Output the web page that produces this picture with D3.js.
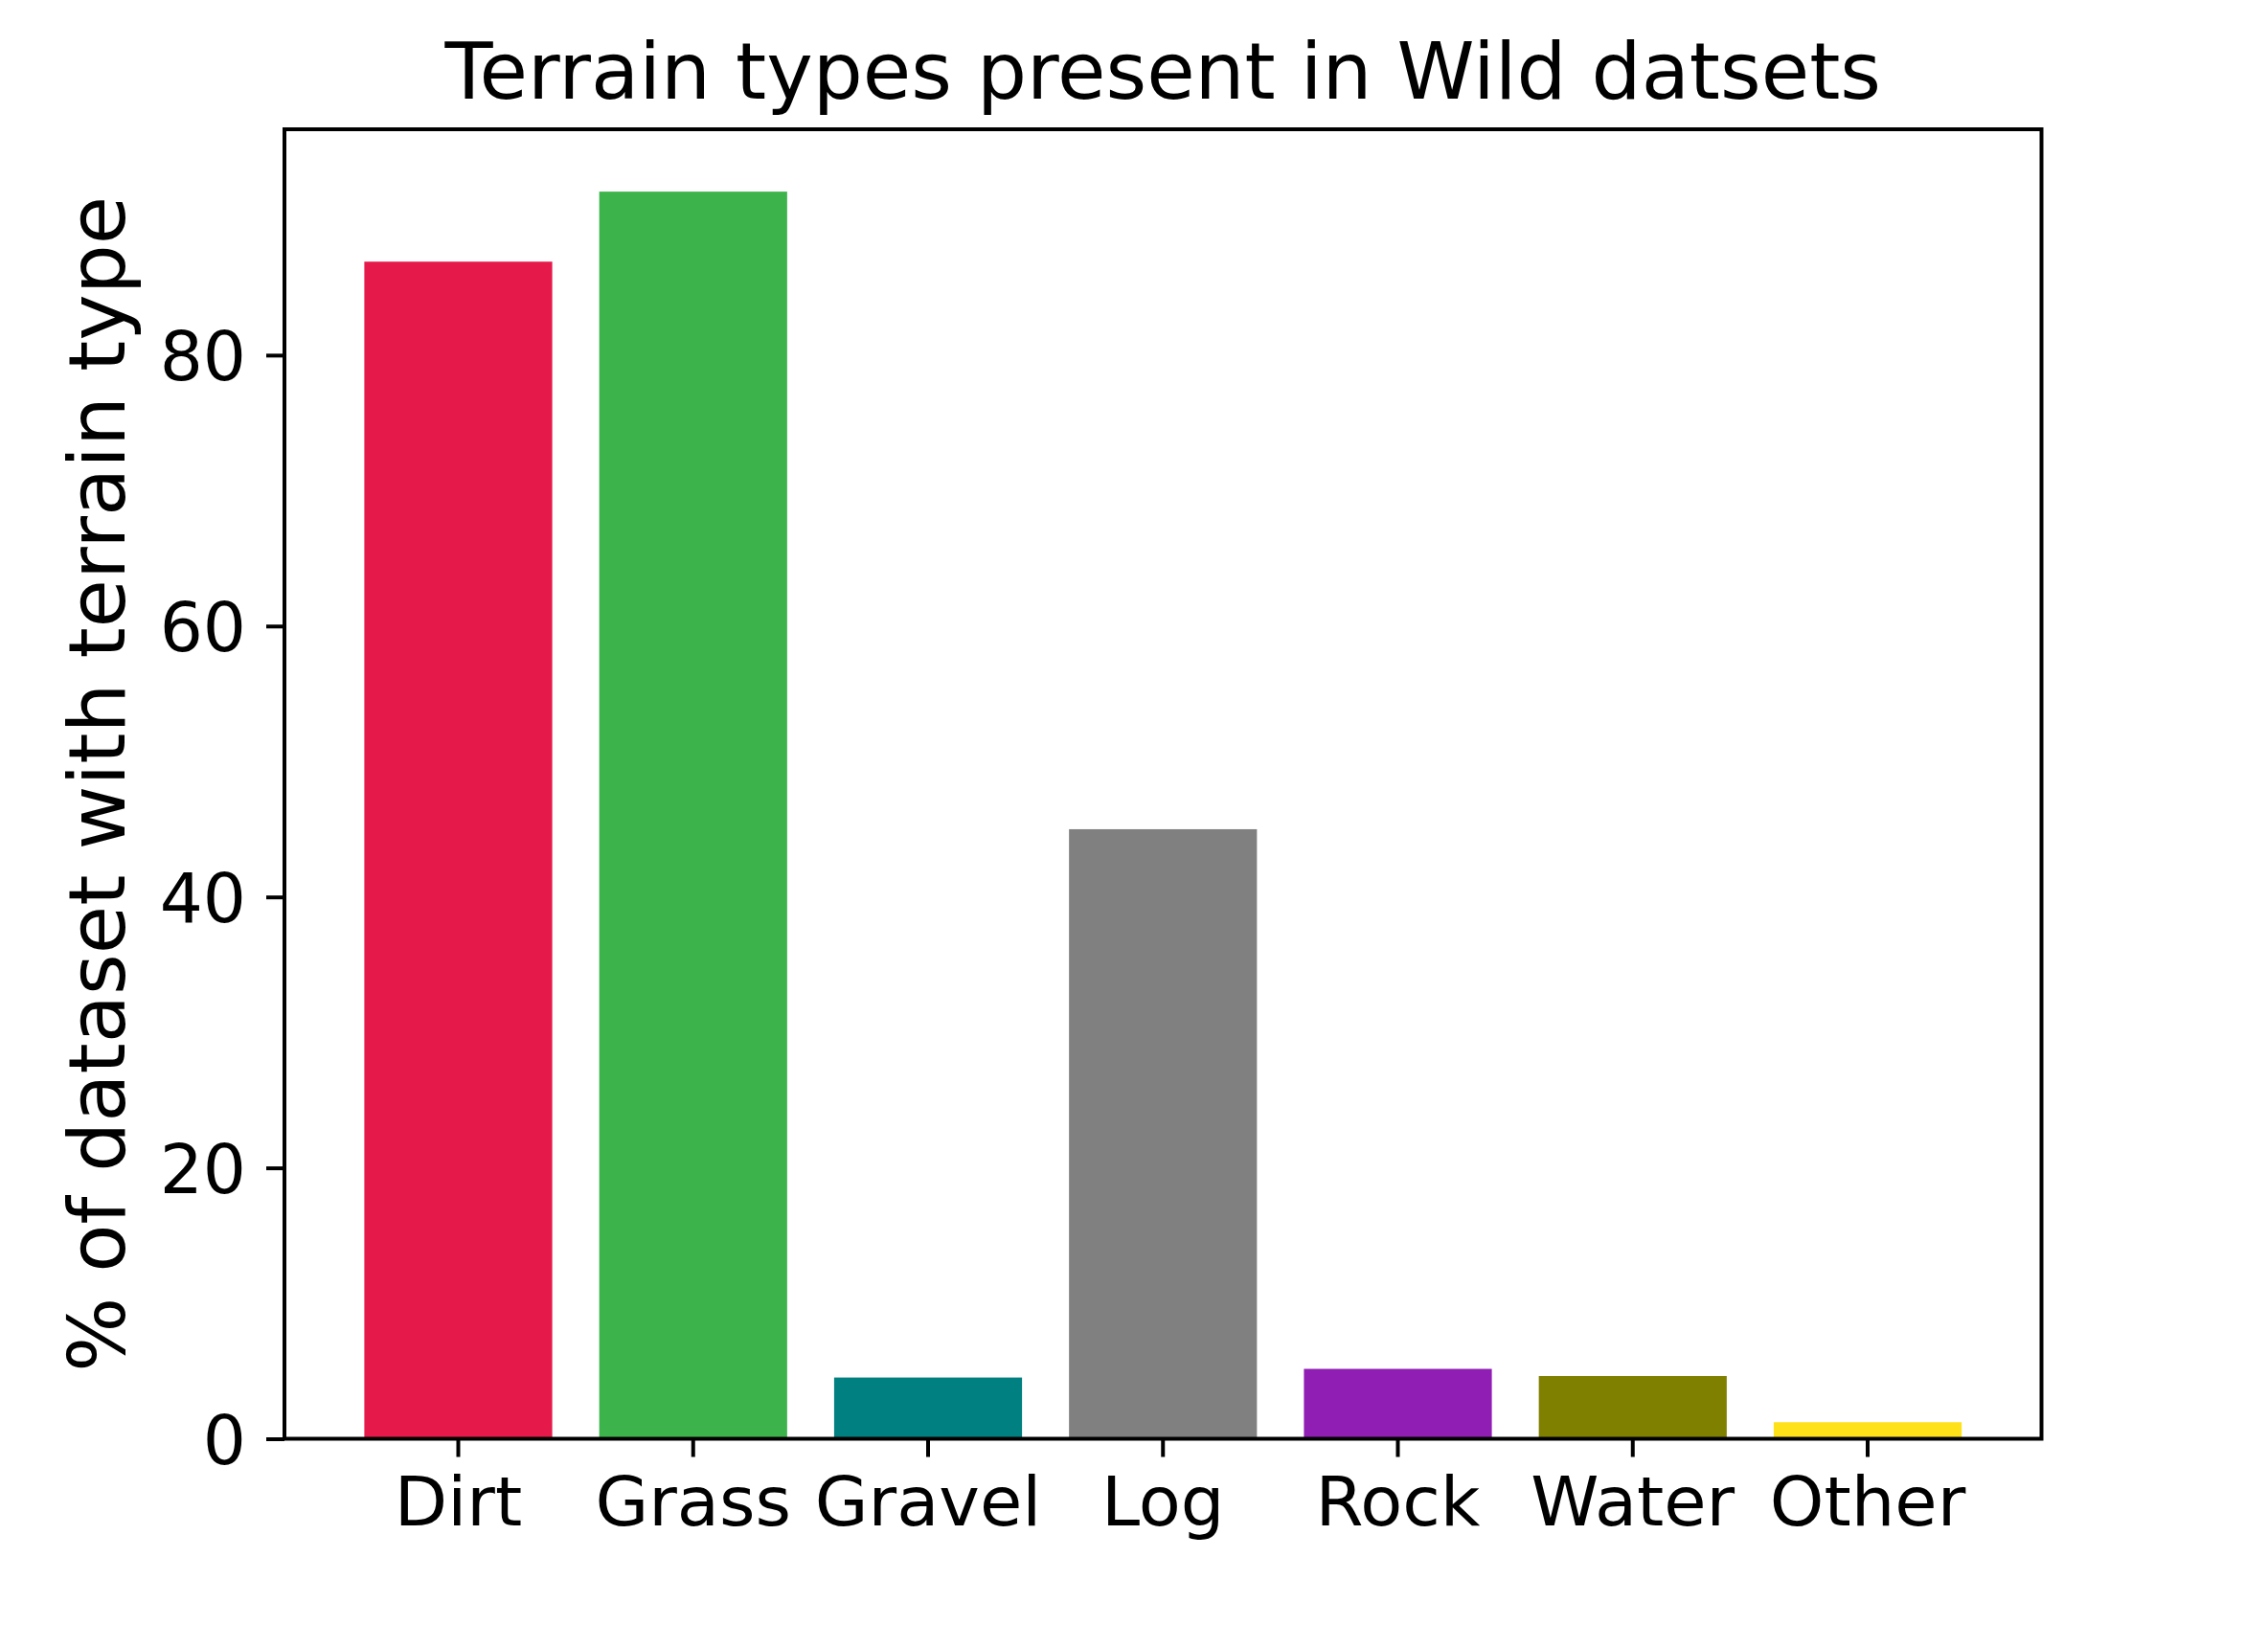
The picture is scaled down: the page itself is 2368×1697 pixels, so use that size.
<!DOCTYPE html>
<html>
<head>
<meta charset="utf-8">
<script src="https://cdn.jsdelivr.net/npm/d3@7"></script>
<style>
  body { margin: 0; background: white; }
  text { font-family: "DejaVu Sans", sans-serif; fill: black; }
</style>
</head>
<body>
<div id="chart"></div>
<script>
// terrain categories and % of dataset
const categories = ["Dirt", "Grass", "Gravel", "Log", "Rock", "Water", "Other"];
const values = [86.9, 92.07, 4.52, 45.0, 5.16, 4.63, 1.22];
const colors = ["#e6194b", "#3cb44b", "#008080", "#808080", "#911eb4", "#808000", "#ffe119"];
const yTicks = [0, 20, 40, 60, 80];

const width = 2368, height = 1697;
const margin = { left: 297, right: 2368 - 2131.5, top: 135, bottom: 1697 - 1502.5 };

const svg = d3.select("#chart").append("svg")
    .attr("width", width)
    .attr("height", height)
    .style("background-color", "white");

// band scale mimics matplotlib's bar width 0.8 and 5% margins
const x = d3.scaleBand()
    .domain(categories)
    .range([margin.left, width - margin.right])
    .paddingInner(0.2)
    .paddingOuter(0.34);

const y = d3.scaleLinear()
    .domain([0, d3.max(values) * 1.05])
    .range([height - margin.bottom, margin.top]);

// bars
svg.selectAll("rect.bar")
    .data(categories)
    .enter()
    .append("rect")
    .attr("class", "bar")
    .attr("x", d => x(d))
    .attr("width", x.bandwidth())
    .attr("y", (d, i) => y(values[i]))
    .attr("height", (d, i) => y(0) - y(values[i]))
    .style("fill", (d, i) => colors[i]);

// x axis
const xAxis = svg.append("g")
    .attr("transform", `translate(0,${height - margin.bottom})`)
    .call(d3.axisBottom(x).tickSize(19).tickPadding(17).tickSizeOuter(0));
xAxis.select(".domain").remove();
xAxis.selectAll(".tick line").attr("stroke", "black").attr("stroke-width", 4);
xAxis.selectAll(".tick text").style("font-size", "72px").attr("dy", "0.76em");

// y axis
const yAxis = svg.append("g")
    .attr("transform", `translate(${margin.left},0)`)
    .call(d3.axisLeft(y).tickValues(yTicks).tickSize(19).tickPadding(21).tickSizeOuter(0));
yAxis.select(".domain").remove();
yAxis.selectAll(".tick line").attr("stroke", "black").attr("stroke-width", 4);
yAxis.selectAll(".tick text").style("font-size", "71px").attr("dy", "0.36em");

// frame
svg.append("rect")
    .attr("x", margin.left)
    .attr("y", margin.top)
    .attr("width", width - margin.left - margin.right)
    .attr("height", height - margin.top - margin.bottom)
    .style("fill", "none")
    .style("stroke", "black")
    .style("stroke-width", 4);

// title
svg.append("text")
    .attr("x", (margin.left + width - margin.right) / 2)
    .attr("y", 103)
    .attr("text-anchor", "middle")
    .style("font-size", "82px")
    .text("Terrain types present in Wild datsets");

// y label
svg.append("text")
    .attr("transform", `translate(130,${(margin.top + height - margin.bottom) / 2}) rotate(-90)`)
    .attr("text-anchor", "middle")
    .style("font-size", "82px")
    .text("% of dataset with terrain type");
</script>
</body>
</html>
